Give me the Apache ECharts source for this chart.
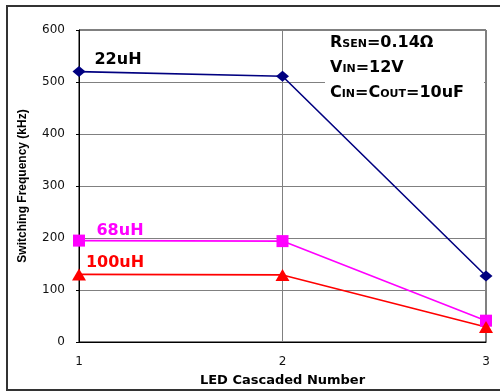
<!DOCTYPE html>
<html>
<head>
<meta charset="utf-8">
<script src="https://cdn.jsdelivr.net/npm/echarts@6/dist/echarts.min.js"></script>
<style>
  html, body { margin: 0; padding: 0; background: #fff; overflow: hidden; }
  #chart { width: 500px; height: 392px; }
</style>
</head>
<body>
<div id="chart"></div>
<script>
// LED cascade count on the x axis
const categories = ['1', '2', '3'];
// Switching frequency (kHz) per inductor value
const freq22uH = [520, 511, 127];
const freq68uH = [195, 194, 41];
const freq100uH = [130, 129, 29];
const yTicks = { min: 0, max: 600, interval: 100 };

const FONT = '"DejaVu Sans", "Liberation Sans", sans-serif';
const FONT_NARROW = '"Liberation Sans", Arial, sans-serif';

function nameLabel(text, color, offset) {
  return {
    show: true,
    position: 'inside',
    offset: offset,
    formatter: text,
    color: color,
    fontFamily: FONT,
    fontWeight: 'bold',
    fontSize: 16
  };
}

function buildData(values, labelCfg) {
  return values.map((v, i) => (i === 0 ? { value: v, label: labelCfg } : v));
}

const chart = echarts.init(document.getElementById('chart'), null, { renderer: 'canvas' });

chart.setOption({
  animation: false,
  backgroundColor: '#fff',
  grid: {
    left: 79, right: 14, top: 30, bottom: 46,
    show: true, borderColor: '#000', borderWidth: 1, backgroundColor: 'transparent'
  },
  xAxis: {
    type: 'category',
    data: categories,
    boundaryGap: false,
    name: 'LED Cascaded Number',
    nameLocation: 'middle',
    nameGap: 32,
    nameTextStyle: { fontFamily: FONT, fontWeight: 'bold', fontSize: 13, color: '#000' },
    axisLine: { lineStyle: { color: '#000', width: 1 } },
    axisTick: { show: false },
    axisLabel: { fontFamily: FONT, fontSize: 12, color: '#111', margin: 14 },
    splitLine: { show: true, lineStyle: { color: '#808080', width: 1 } }
  },
  yAxis: {
    type: 'value',
    min: yTicks.min, max: yTicks.max, interval: yTicks.interval,
    name: 'Switching Frequency (kHz)',
    nameLocation: 'middle',
    nameGap: 50,
    nameTextStyle: { fontFamily: FONT_NARROW, fontWeight: 'bold', fontSize: 12, color: '#000' },
    axisLine: { show: true, lineStyle: { color: '#000', width: 1 } },
    axisTick: { show: true, length: 3, lineStyle: { color: '#000' } },
    axisLabel: { fontFamily: FONT, fontSize: 12, color: '#111', margin: 14 },
    splitLine: { show: true, lineStyle: { color: '#808080', width: 1 } }
  },
  series: [
    {
      name: '22uH', type: 'line',
      data: buildData(freq22uH, nameLabel('22uH', '#000', [39, -12])),
      symbol: 'diamond', symbolSize: [13, 11],
      itemStyle: { color: '#000080' },
      lineStyle: { color: '#000080', width: 1.6 },
      label: { show: false }
    },
    {
      name: '68uH', type: 'line',
      data: buildData(freq68uH, nameLabel('68uH', '#ff00ff', [41, -10])),
      symbol: 'rect', symbolSize: 12,
      itemStyle: { color: '#ff00ff' },
      lineStyle: { color: '#ff00ff', width: 1.6 },
      label: { show: false }
    },
    {
      name: '100uH', type: 'line',
      data: buildData(freq100uH, nameLabel('100uH', '#ff0000', [36, -12])),
      symbol: 'triangle', symbolSize: [14, 12],
      itemStyle: { color: '#ff0000' },
      lineStyle: { color: '#ff0000', width: 1.6 },
      label: { show: false }
    }
  ],
  graphic: [
    {
      // outer chart frame: top, left and bottom edges
      type: 'polyline', silent: true, z: 100,
      shape: { points: [[500, 6], [7, 6], [7, 390], [500, 390]] },
      style: { fill: 'none', stroke: '#333', lineWidth: 2 }
    },
    {
      // test-condition box
      type: 'rect', silent: true, z: 50,
      shape: { x: 325, y: 31, width: 159, height: 75 },
      style: { fill: '#fff', stroke: 'none' }
    },
    {
      type: 'text', silent: true, z: 60,
      left: 330, top: 35,
      style: {
        text: '{b|R}{s|SEN}{b|=0.14Ω}\n{b|V}{s|IN}{b|=12V}\n{b|C}{s|IN}{b|=C}{s|OUT}{b|=10uF}',
        rich: {
          b: { fontFamily: FONT, fontWeight: 'bold', fontSize: 16, color: '#000', lineHeight: 25, verticalAlign: 'bottom' },
          s: { fontFamily: FONT, fontWeight: 'bold', fontSize: 11, color: '#000', lineHeight: 25, verticalAlign: 'bottom', padding: [0, 0, 1, 0] }
        }
      }
    }
  ]
});
</script>
</body>
</html>
